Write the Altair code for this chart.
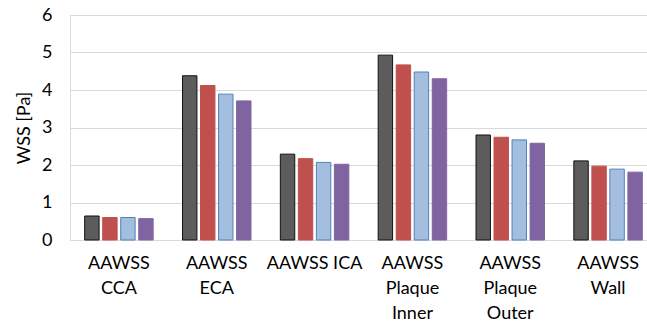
import altair as alt
import pandas as pd

categories = ["AAWSS CCA", "AAWSS ECA", "AAWSS ICA", "AAWSS Plaque Inner", "AAWSS Plaque Outer", "AAWSS Wall"]
tick_labels = [["AAWSS", "CCA"], ["AAWSS", "ECA"], ["AAWSS ICA"], ["AAWSS", "Plaque", "Inner"], ["AAWSS", "Plaque", "Outer"], ["AAWSS", "Wall"]]
y_ticks = [0, 1, 2, 3, 4, 5, 6]
series = ["Series 1", "Series 2", "Series 3", "Series 4"]
s1 = [0.64, 4.38, 2.29, 4.93, 2.80, 2.11]
s2 = [0.60, 4.12, 2.17, 4.67, 2.74, 1.97]
s3 = [0.60, 3.89, 2.07, 4.48, 2.67, 1.89]
s4 = [0.57, 3.71, 2.02, 4.30, 2.58, 1.81]
fills = ["#5c5c5c", "#C0504D", "#A4BEE0", "#8064A2"]
strokes = ["#111111", "#C0504D", "#4F81BD", "#8064A2"]

rows = []
for sname, vals in zip(series, [s1, s2, s3, s4]):
    for c, v in zip(categories, vals):
        rows.append({"category": c, "series": sname, "value": v})
df = pd.DataFrame(rows)

def js_list(items):
    return "[" + ",".join("'" + t + "'" for t in items) + "]"

label_expr = ""
for c, lab in zip(categories, tick_labels):
    label_expr += f"datum.value == '{c}' ? {js_list(lab)} : "
label_expr += "datum.value"

font = "Lato"

chart = alt.Chart(df).mark_bar(strokeWidth=1).encode(
    x=alt.X("category:N", sort=categories,
            scale=alt.Scale(range=[0, 587], paddingInner=0.3, paddingOuter=0.15),
            axis=alt.Axis(title=None, labelExpr=label_expr, labelAngle=0, ticks=False,
                          domainColor="#d9d9d9", labelFont=font, labelFontSize=18,
                          labelColor="#000000", labelLineHeight=25, labelPadding=14,
                          labelBaseline="top")),
    xOffset=alt.XOffset("series:N", sort=series, scale=alt.Scale(paddingInner=0.2)),
    y=alt.Y("value:Q", scale=alt.Scale(domain=[0, 6], nice=False),
            axis=alt.Axis(title="WSS [Pa]", values=y_ticks, labelOverlap=False, labelFlush=False,
                          domain=False, ticks=False, gridColor="#d9d9d9",
                          labelFont=font, labelFontSize=18, labelColor="#000000",
                          labelPadding=18, titleFont=font, titleFontSize=18,
                          titleFontWeight="normal", titleColor="#000000", titlePadding=8)),
    fill=alt.Fill("series:N", sort=series, scale=alt.Scale(domain=series, range=fills), legend=None),
    stroke=alt.Stroke("series:N", sort=series, scale=alt.Scale(domain=series, range=strokes), legend=None),
).properties(
    width=577, height=225,
    autosize=alt.AutoSizeParams(type="none"),
    padding={"left": 70, "top": 15, "right": 0, "bottom": 90},
).configure_view(stroke=None).configure(background="white")

chart.save("out.html", embed_options={"renderer": "svg", "actions": False})
